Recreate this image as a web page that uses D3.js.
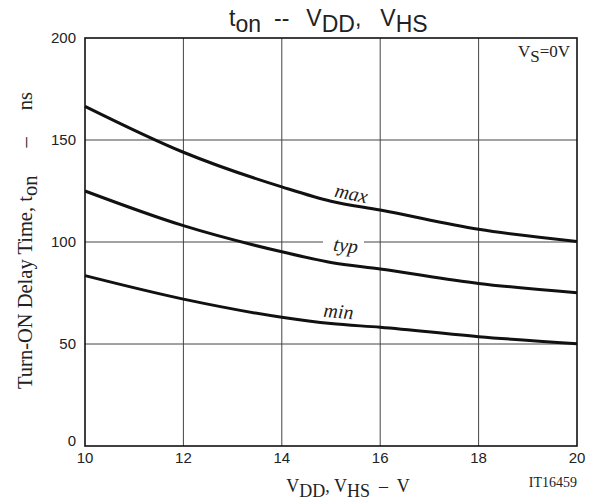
<!DOCTYPE html>
<html>
<head>
<meta charset="utf-8">
<script src="https://cdn.jsdelivr.net/npm/d3@7"></script>
<style>
body { margin: 0; background: #fff; }
svg { display: block; }
text { white-space: pre; }
</style>
</head>
<body>
<script>
var vdd = [10, 12, 14, 15, 16, 18, 20];
var tonMax = [166.5, 144, 127, 120, 115.7, 106.2, 100.3];
var tonTyp = [125, 108, 95.2, 90, 86.8, 79.7, 75.1];
var tonMin = [83.5, 72, 63.1, 60, 58.2, 53.6, 50.1];
var xTicks = [10, 12, 14, 16, 18, 20];
var yTicks = [0, 50, 100, 150, 200];

var W = 594, H = 499;
var mLeft = 85, mRight = 577, mTop = 38, mBottom = 446;

var svg = d3.select('body').append('svg').attr('width', W).attr('height', H);

var x = d3.scaleLinear().domain([10, 20]).range([mLeft, mRight]);
var y = d3.scaleLinear().domain([0, 200]).range([mBottom, mTop]);

// grid
svg.append('g').selectAll('line')
	.data(xTicks.slice(1, -1))
	.enter().append('line')
		.attr('x1', d => x(d)).attr('x2', d => x(d))
		.attr('y1', mTop).attr('y2', mBottom)
		.attr('stroke', '#444').attr('stroke-width', 1);
svg.append('g').selectAll('line')
	.data(yTicks.slice(1, -1))
	.enter().append('line')
		.attr('x1', mLeft).attr('x2', mRight)
		.attr('y1', d => y(d)).attr('y2', d => y(d))
		.attr('stroke', '#444').attr('stroke-width', 1);

// curves
var line = d3.line()
	.x((d, i) => x(vdd[i]))
	.y(d => y(d))
	.curve(d3.curveMonotoneX);

svg.selectAll('path.curve')
	.data([tonMax, tonTyp, tonMin])
	.enter().append('path')
		.attr('class', 'curve')
		.attr('d', d => line(d))
		.attr('fill', 'none')
		.attr('stroke', '#111')
		.attr('stroke-width', 3);

// frame
svg.append('rect')
	.attr('x', mLeft).attr('y', mTop)
	.attr('width', mRight - mLeft).attr('height', mBottom - mTop)
	.attr('fill', 'none').attr('stroke', '#111').attr('stroke-width', 1.6);

// tick labels
svg.append('g').selectAll('text')
	.data(xTicks)
	.enter().append('text')
		.attr('x', d => x(d))
		.attr('y', mBottom + 17)
		.attr('text-anchor', 'middle')
		.attr('font-family', 'Liberation Sans, Arial, sans-serif')
		.attr('font-size', 15)
		.attr('fill', '#222')
		.text(d => d);
svg.append('g').selectAll('text')
	.data(yTicks)
	.enter().append('text')
		.attr('x', mLeft - 9)
		.attr('y', d => y(d) + (d === 0 ? 0 : 5))
		.attr('text-anchor', 'end')
		.attr('font-family', 'Liberation Sans, Arial, sans-serif')
		.attr('font-size', 15)
		.attr('fill', '#222')
		.text(d => d);

// curve labels
var serif = 'Liberation Serif, Times New Roman, serif';
var labels = [
	{t: 'max', x: 350, y: 200, r: 12},
	{t: 'typ', x: 345, y: 252, r: 7},
	{t: 'min', x: 338, y: 318, r: 5}
];
svg.append('rect')
	.attr('x', 323).attr('y', y(100) - 3)
	.attr('width', 41).attr('height', 6)
	.attr('fill', '#fff');
svg.append('g').selectAll('text')
	.data(labels)
	.enter().append('text')
		.attr('transform', d => 'translate(' + d.x + ',' + d.y + ') rotate(' + d.r + ')')
		.attr('text-anchor', 'middle')
		.attr('font-family', serif)
		.attr('font-style', 'italic')
		.attr('font-size', 20)
		.attr('fill', '#222')
		.text(d => d.t);

// title
var title = svg.append('text')
	.attr('x', 229).attr('y', 26)
	.attr('font-family', 'Liberation Sans, Arial, sans-serif')
	.attr('font-size', 23)
	.attr('fill', '#222');
title.append('tspan').text('t');
title.append('tspan').attr('dy', 6).text('on');
title.append('tspan').attr('dy', -6).attr('dx', 13).text('--');
title.append('tspan').attr('dx', 17).text('V');
title.append('tspan').attr('dy', 6).text('DD');
title.append('tspan').attr('dy', -6).text(',');
title.append('tspan').attr('dx', 19).text('V');
title.append('tspan').attr('dy', 6).text('HS');

// Vs note
var vs = svg.append('text')
	.attr('x', 570).attr('y', 57)
	.attr('text-anchor', 'end')
	.attr('font-family', serif)
	.attr('font-size', 17)
	.attr('fill', '#222');
vs.append('tspan').text('V');
vs.append('tspan').attr('dy', 5).text('S');
vs.append('tspan').attr('dy', -5).text('=0V');

// y axis label
var yl = svg.append('text')
	.attr('transform', 'translate(32,389) rotate(-90)')
	.attr('font-family', serif)
	.attr('font-size', 20.5)
	.attr('fill', '#222');
yl.append('tspan').text('Turn-ON Delay Time, t');
yl.append('tspan').attr('dy', 5).text('on');
yl.append('tspan').attr('dy', -5).attr('dx', 28).text('\u2013');
yl.append('tspan').attr('dx', 27).text('ns');

// x axis label
var xl = svg.append('text')
	.attr('x', 348).attr('y', 492)
	.attr('text-anchor', 'middle')
	.attr('font-family', serif)
	.attr('font-size', 18)
	.attr('fill', '#222');
xl.append('tspan').text('V');
xl.append('tspan').attr('dy', 5).text('DD');
xl.append('tspan').attr('dy', -5).text(', V');
xl.append('tspan').attr('dy', 5).text('HS');
xl.append('tspan').attr('dy', -5).text('  \u2013  V');

svg.append('text')
	.attr('x', 577).attr('y', 487)
	.attr('text-anchor', 'end')
	.attr('font-family', serif)
	.attr('font-size', 14)
	.attr('fill', '#222')
	.text('IT16459');
</script>
</body>
</html>
